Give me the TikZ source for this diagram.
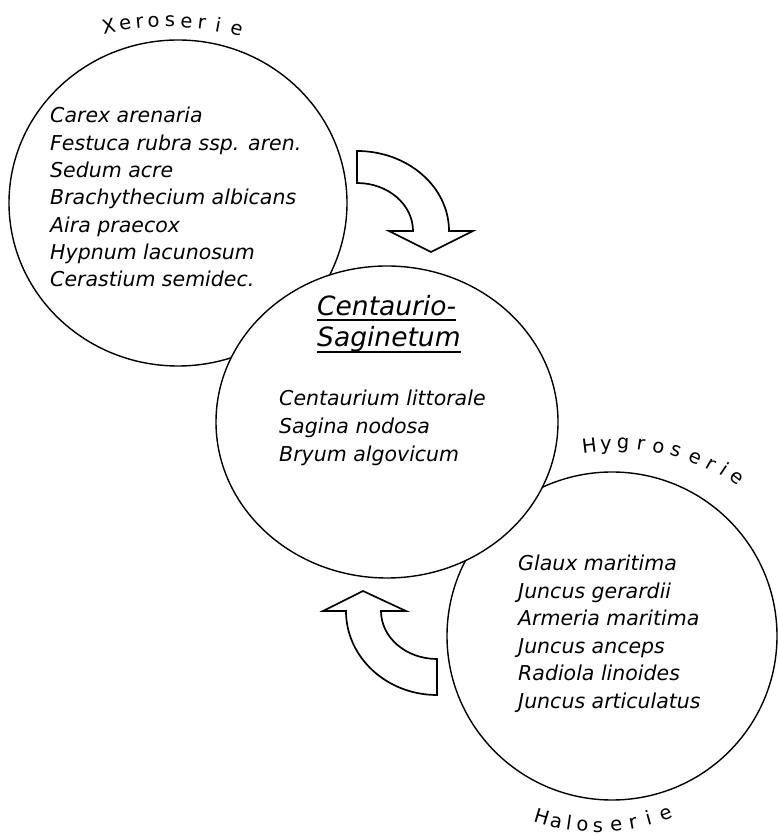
\documentclass[tikz,border=0pt]{standalone}
\usepackage{fontspec}
\setmainfont{DejaVu Sans}
\begin{document}
\begin{tikzpicture}[x=1pt,y=1pt,
  ring/.style={draw=black, line width=1.4pt, fill=white},
  bigarrow/.style={draw=black, line width=1.7pt, fill=white, line join=miter},
  species/.style={anchor=base west, inner sep=0pt, font=\fontsize{20.5}{24}\selectfont\itshape},
  titletext/.style={anchor=base west, inner sep=0pt, font=\fontsize{26.5}{30}\selectfont\itshape},
  arcletter/.style={anchor=base, inner sep=0pt, font=\fontsize{19.5}{24}\selectfont},
  uline/.style={line width=1.4pt}]
\useasboundingbox (0,0) rectangle (778,836);

% circles
\draw[ring] (178,633) ellipse [x radius=169, y radius=163];
\draw[ring] (612,200) ellipse [x radius=165, y radius=164];
\draw[ring] (387,414) ellipse [x radius=171, y radius=156];

% curved arrows
\draw[bigarrow] (357,685) arc[start angle=90, end angle=0, x radius=92, y radius=80]
  -- (473,605) -- (431,584) -- (389,605) -- (413,605)
  arc[start angle=0, end angle=90, x radius=56, y radius=48] -- cycle;
\draw[bigarrow] (437,141) arc[start angle=270, end angle=180, x radius=91, y radius=84]
  -- (323,225) -- (363,245) -- (406,225) -- (381,225)
  arc[start angle=180, end angle=270, x radius=56, y radius=48] -- cycle;

% Xeroserie species
\foreach \t [count=\i] in {Carex arenaria, Festuca rubra ssp. aren., Sedum acre,
  Brachythecium albicans, Aira praecox, Hypnum lacunosum, Cerastium semidec.}
  \node[species] (xero\i) at (50,{713-27.3*(\i-1)}) {\t};

% Centaurio-Saginetum
\node[titletext] (t1) at (317,520) {Centaurio-};
\node[titletext] (t2) at (317,489) {Saginetum};
\draw[uline] ([yshift=-4pt]t1.base west) -- ([yshift=-4pt]t1.base east);
\draw[uline] ([yshift=-5pt]t2.base west) -- ([yshift=-5pt]t2.base east);
\foreach \t [count=\i] in {Centaurium littorale, Sagina nodosa, Bryum algovicum}
  \node[species] (cent\i) at (279,{430-28*(\i-1)}) {\t};

% Hygro/Haloserie species
\foreach \t [count=\i] in {Glaux maritima, Juncus gerardii, Armeria maritima,
  Juncus anceps, Radiola linoides, Juncus articulatus}
  \node[species] (halo\i) at (518,{265.3-27.5*(\i-1)}) {\t};

% arched labels
\foreach \c/\a [count=\i] in {X/101.7, e/98.4, r/95.5, o/92.7, s/89.4, e/86.1, r/83, i/79.7, e/75.9}
  \node[arcletter, rotate={\a-90}] (xl\i) at ({167+280*cos(\a)},{529+280*sin(\a)}) {\c};
\foreach \c/\a/\r [count=\i] in {H/96.8/185, y/91.8/186, g/86.7/187, r/81.4/188, o/76.2/189,
  s/70.9/190, e/65/191, r/60/192, i/56/194, e/51.8/196}
  \node[arcletter, rotate={\a-90}] (hy\i) at ({612+\r*cos(\a)},{200+\r*sin(\a)}) {\c};
\foreach \c/\a [count=\i] in {H/253.4, a/257.9, l/261.7, o/265.7, s/270.3, e/275.7, r/280.7, i/285.4, e/290.8}
  \node[arcletter, rotate={\a+90}] (hl\i) at ({597+200*cos(\a)},{204+200*sin(\a)}) {\c};
\end{tikzpicture}
\end{document}
